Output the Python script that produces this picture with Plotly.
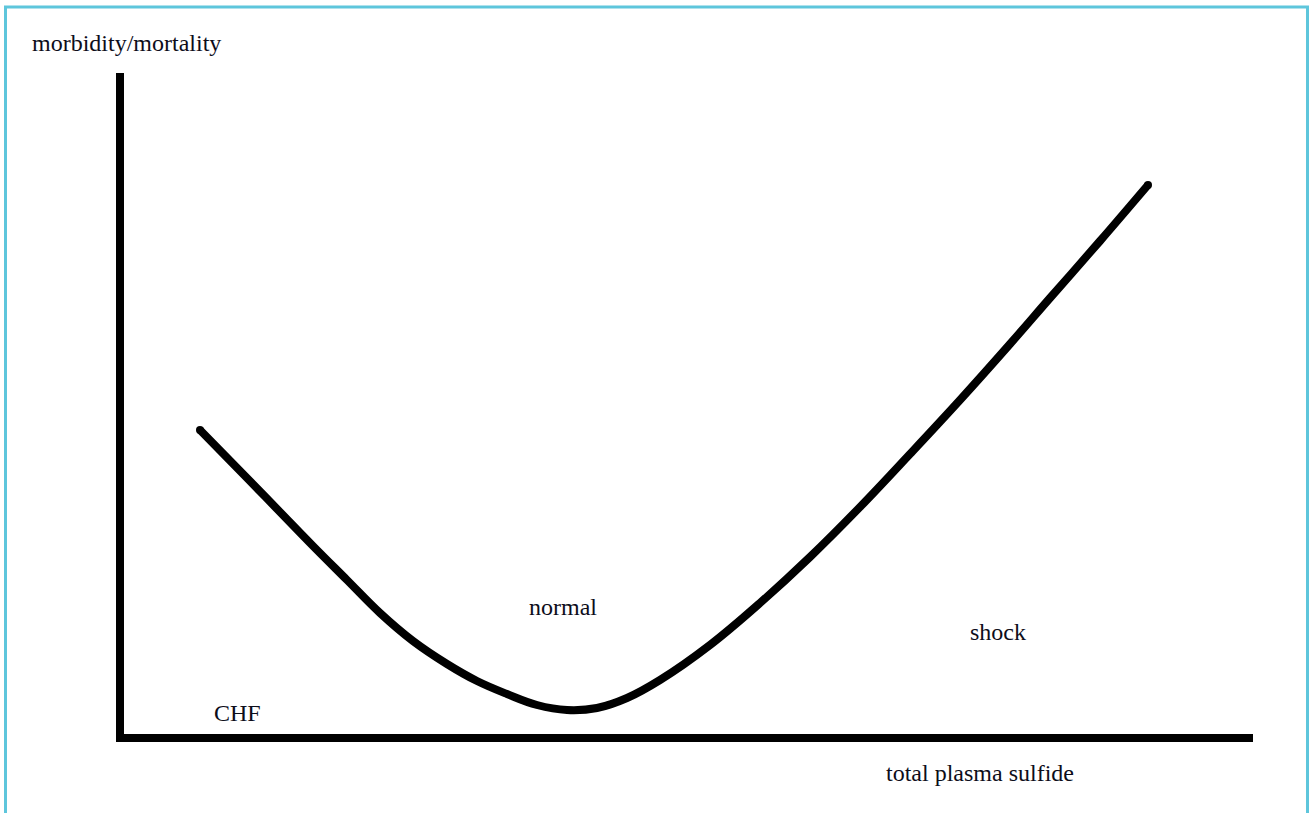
import plotly.graph_objects as go

# Curve: total plasma sulfide (arbitrary units) vs morbidity/mortality (arbitrary units)
sulfide = [0.80, 1.27, 1.60, 1.93, 2.27, 2.60, 2.93, 3.27, 3.57, 3.87, 4.17, 4.47,
           4.77, 5.07, 5.40, 5.90, 6.40, 6.90, 7.40, 7.90, 8.40, 8.90, 9.30, 9.80, 10.28]
morbidity = [3.08, 2.60, 2.26, 1.92, 1.58, 1.25, 0.97, 0.74, 0.57, 0.44, 0.33, 0.28,
             0.30, 0.40, 0.58, 0.93, 1.35, 1.81, 2.31, 2.84, 3.38, 3.94, 4.40, 4.97, 5.53]

region_labels = ["CHF", "normal", "shock"]
region_x = [1.17, 4.43, 8.78]
region_y = [0.25, 1.31, 1.06]

x_title = "total plasma sulfide"
y_title = "morbidity/mortality"

W, H = 1312, 813
L, R, T, B = 124, 1253, 73, 734  # plot area in pixels
ORIGIN_X, ORIGIN_Y, SCALE = 120, 738, 100.0

x_range = [(L - ORIGIN_X) / SCALE, (R - ORIGIN_X) / SCALE]
y_range = [(ORIGIN_Y - B) / SCALE, (ORIGIN_Y - T) / SCALE]

FONT = dict(family="Liberation Serif, Times New Roman, serif", size=24, color="#0d0d1a")

fig = go.Figure()
fig.add_trace(go.Scatter(
    x=sulfide, y=morbidity, mode="lines",
    line=dict(color="black", width=8, shape="spline", smoothing=1.1),
    hoverinfo="skip", showlegend=False,
))
# round end caps
fig.add_trace(go.Scatter(
    x=[sulfide[0], sulfide[-1]], y=[morbidity[0], morbidity[-1]], mode="markers",
    marker=dict(color="black", size=8), hoverinfo="skip", showlegend=False,
))

for t, xv, yv in zip(region_labels, region_x, region_y):
    fig.add_annotation(x=xv, y=yv, xref="x", yref="y", text=t, showarrow=False,
                       font=FONT, xanchor="center", yanchor="middle")


def paper_x(px):
    return (px - L) / (R - L)


def paper_y(py):
    return (B - py) / (B - T)


fig.add_annotation(x=paper_x(126.5), y=paper_y(43), xref="paper", yref="paper", text=y_title,
                   showarrow=False, font=FONT, xanchor="center", yanchor="middle")
fig.add_annotation(x=paper_x(980), y=paper_y(773), xref="paper", yref="paper", text=x_title,
                   showarrow=False, font=FONT, xanchor="center", yanchor="middle")

# light blue frame around the image
fig.add_shape(type="rect", xref="paper", yref="paper",
              x0=paper_x(5.5), x1=paper_x(1307.5), y0=paper_y(840), y1=paper_y(7),
              line=dict(color="#5ec6dc", width=3), fillcolor="rgba(0,0,0,0)", layer="above")

axis_common = dict(showgrid=False, zeroline=False, showticklabels=False, ticks="",
                   showline=True, linecolor="black", linewidth=8, fixedrange=True)

fig.update_layout(
    width=W, height=H,
    margin=dict(l=L, r=W - R, t=T, b=H - B, pad=0),
    paper_bgcolor="white", plot_bgcolor="white",
    xaxis=dict(range=x_range, **axis_common),
    yaxis=dict(range=y_range, **axis_common),
    showlegend=False,
)

fig.write_html("out.html", config={"displayModeBar": False},
               post_script="document.body.style.margin='0';document.body.style.overflow='hidden';")
